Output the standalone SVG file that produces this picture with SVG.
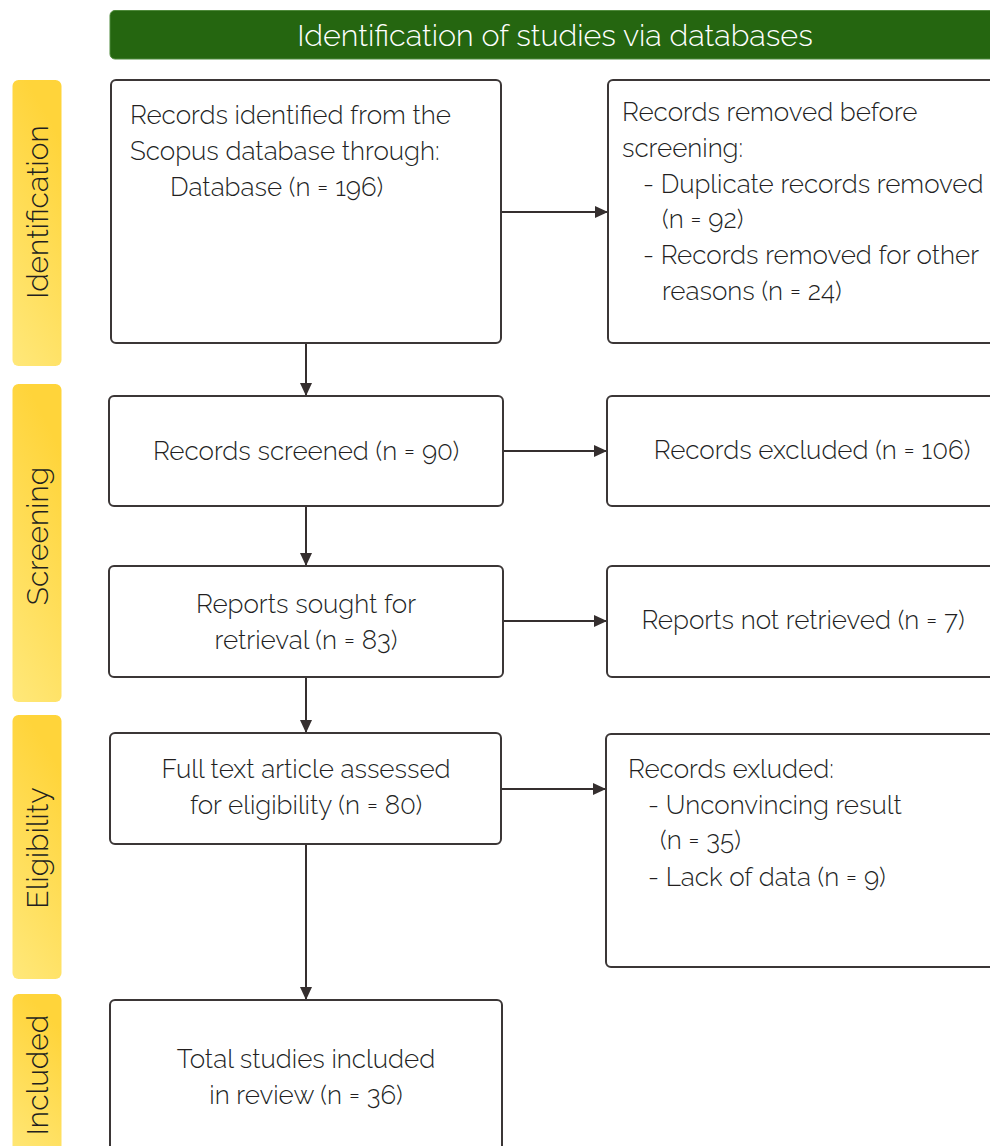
<svg xmlns="http://www.w3.org/2000/svg" width="990" height="1146" viewBox="0 0 990 1146">
<defs>
  <linearGradient id="yel" x1="0.3" y1="0" x2="0" y2="1">
    <stop offset="0" stop-color="#FFD43A"/>
    <stop offset="1" stop-color="#FFE87A"/>
  </linearGradient>
  <marker id="arr" markerUnits="userSpaceOnUse" markerWidth="14" markerHeight="14" viewBox="0 0 14 14" refX="13" refY="7" orient="auto">
    <path d="M0,1 L13,7 L0,13 Z" fill="#352f2f"/>
  </marker>
  <style>
    .box { fill: #ffffff; stroke: #3b3636; stroke-width: 2; }
    .bar { fill: url(#yel); }
    .t { font-family: "Raleway", "Open Sans", "Noto Sans", sans-serif; font-weight: 300; font-size: 26px; fill: #231f1f; }
    .c { text-anchor: middle; }
    .side { font-family: "Raleway", "Open Sans", "Noto Sans", sans-serif; font-weight: 300; font-size: 30px; fill: #231f1f; text-anchor: middle; }
    .hdr { font-family: "Raleway", "Open Sans", "Noto Sans", sans-serif; font-weight: 300; font-size: 30.5px; fill: #ffffff; text-anchor: middle; }
    .ln { fill: none; stroke: #352f2f; stroke-width: 2; marker-end: url(#arr); }
  </style>
</defs>
<rect width="990" height="1146" fill="#ffffff"/>

<g id="header">
  <rect x="110" y="10.5" width="900" height="48.5" rx="5" fill="#256610" stroke="#4f8a3c" stroke-width="1"/>
  <text class="hdr" x="555" y="46">Identification of studies via databases</text>
</g>

<g id="phase-identification">
  <rect class="bar" x="12.5" y="80" width="49" height="286" rx="6"/>
  <text class="side" transform="translate(48,212) rotate(-90)">Identification</text>
</g>
<g id="phase-screening">
  <rect class="bar" x="12.5" y="384" width="49" height="318" rx="6"/>
  <text class="side" transform="translate(48,536) rotate(-90)">Screening</text>
</g>
<g id="phase-eligibility">
  <rect class="bar" x="12.5" y="715" width="49" height="264" rx="6"/>
  <text class="side" transform="translate(48,848) rotate(-90)">Eligibility</text>
</g>
<g id="phase-included">
  <rect class="bar" x="12.5" y="994" width="49" height="170" rx="6"/>
  <text class="side" transform="translate(48,1075) rotate(-90)">Included</text>
</g>

<g id="connectors">
  <line class="ln" x1="306" y1="343" x2="306" y2="396"/>
  <line class="ln" x1="306" y1="506" x2="306" y2="566"/>
  <line class="ln" x1="306" y1="677" x2="306" y2="733"/>
  <line class="ln" x1="306" y1="844" x2="306" y2="1000"/>
  <line class="ln" x1="501" y1="212" x2="608" y2="212"/>
  <line class="ln" x1="503" y1="451" x2="607" y2="451"/>
  <line class="ln" x1="503" y1="621" x2="607" y2="621"/>
  <line class="ln" x1="501" y1="789" x2="606" y2="789"/>
</g>

<g id="records-identified">
  <rect class="box" x="111" y="80" width="390" height="263" rx="5"/>
  <text class="t" x="130" y="124">Records identified from the</text>
  <text class="t" x="130" y="160">Scopus database through:</text>
  <text class="t" x="170" y="196">Database (n = 196)</text>
</g>

<g id="records-removed">
  <rect class="box" x="608" y="80" width="400" height="263" rx="5"/>
  <text class="t" x="622" y="121">Records removed before</text>
  <text class="t" x="622" y="157">screening:</text>
  <text class="t" x="643" y="193">- Duplicate records removed</text>
  <text class="t" x="662" y="228">(n = 92)</text>
  <text class="t" x="643" y="264">- Records removed for other</text>
  <text class="t" x="662" y="300">reasons (n = 24)</text>
</g>

<g id="records-screened">
  <rect class="box" x="109" y="396" width="394" height="110" rx="5"/>
  <text class="t c" x="306" y="460">Records screened (n = 90)</text>
</g>

<g id="records-excluded">
  <rect class="box" x="607" y="396" width="400" height="110" rx="5"/>
  <text class="t c" x="812" y="459">Records excluded (n = 106)</text>
</g>

<g id="reports-sought">
  <rect class="box" x="109" y="566" width="394" height="111" rx="5"/>
  <text class="t c" x="306" y="613">Reports sought for</text>
  <text class="t c" x="306" y="649">retrieval (n = 83)</text>
</g>

<g id="reports-not-retrieved">
  <rect class="box" x="607" y="566" width="400" height="111" rx="5"/>
  <text class="t c" x="803" y="629">Reports not retrieved (n = 7)</text>
</g>

<g id="full-text-assessed">
  <rect class="box" x="110" y="733" width="391" height="111" rx="5"/>
  <text class="t c" x="306" y="778">Full text article assessed</text>
  <text class="t c" x="306" y="814">for eligibility (n = 80)</text>
</g>

<g id="records-exluded-eligibility">
  <rect class="box" x="606" y="734" width="400" height="233" rx="5"/>
  <text class="t" x="628" y="778">Records exluded:</text>
  <text class="t" x="648" y="814">- Unconvincing result</text>
  <text class="t" x="660" y="849">(n = 35)</text>
  <text class="t" x="648" y="886">- Lack of data (n = 9)</text>
</g>

<g id="total-included">
  <rect class="box" x="110" y="1000" width="392" height="170" rx="5"/>
  <text class="t c" x="306" y="1068">Total studies included</text>
  <text class="t c" x="306" y="1104">in review (n = 36)</text>
</g>
</svg>
